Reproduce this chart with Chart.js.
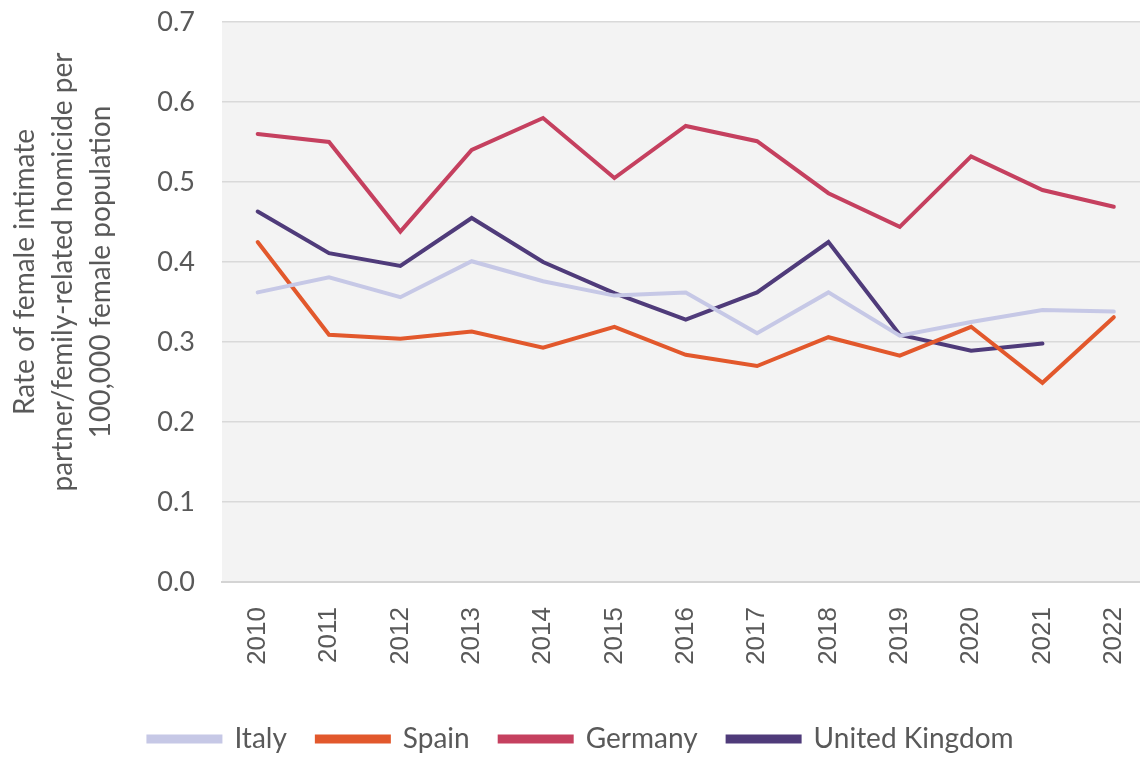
<!DOCTYPE html>
<html>
<head>
<meta charset="utf-8">
<script src="https://cdn.jsdelivr.net/npm/chart.js@4/dist/chart.umd.min.js"></script>
<style>
  html, body { margin: 0; padding: 0; background: #fff; overflow: hidden; }
  #wrap { width: 1162px; height: 757px; }
</style>
</head>
<body>
<div id="wrap"><canvas id="homicide-chart" width="1162" height="757"></canvas></div>
<script>
// YEARS AND RATES (per 100,000 female population)
const years = ["2010", "2011", "2012", "2013", "2014", "2015", "2016", "2017", "2018", "2019", "2020", "2021", "2022"];
const italy = [0.362, 0.381, 0.356, 0.401, 0.376, 0.358, 0.362, 0.311, 0.362, 0.308, 0.325, 0.340, 0.338];
const spain = [0.425, 0.309, 0.304, 0.313, 0.293, 0.319, 0.284, 0.270, 0.306, 0.283, 0.319, 0.249, 0.331];
const germany = [0.560, 0.550, 0.438, 0.540, 0.580, 0.505, 0.570, 0.551, 0.486, 0.444, 0.532, 0.490, 0.469];
const uk = [0.463, 0.411, 0.395, 0.455, 0.400, 0.361, 0.328, 0.362, 0.425, 0.309, 0.289, 0.298, null];
const yTicks = [0, 0.1, 0.2, 0.3, 0.4, 0.5, 0.6, 0.7];
const yTitle = ["Rate of female intimate", "partner/femily-related homicide per", "100,000 female population"];

const textGrey = "#595959";

// grey plot area behind the lines
const plotBackground = {
    id: "plotBackground",
    beforeDraw: function(chart) {
        const a = chart.chartArea;
        chart.ctx.save();
        chart.ctx.fillStyle = "#f3f3f3";
        chart.ctx.fillRect(a.left, a.top, a.right - a.left, a.bottom - a.top);
        chart.ctx.restore();
    }
};

// y axis title, sitting a bit above the middle of the plot like the original
const sideTitle = {
    id: "sideTitle",
    afterDraw: function(chart) {
        const ctx = chart.ctx;
        ctx.save();
        ctx.fillStyle = textGrey;
        ctx.font = "28px Lato";
        ctx.textAlign = "center";
        ctx.textBaseline = "middle";
        ctx.translate(25, 272);
        ctx.rotate(-Math.PI / 2);
        yTitle.forEach(function(line, i) {
            ctx.fillText(line, 0, i * 38);
        });
        ctx.restore();
    }
};

const dataRates = {
    labels: years,
    datasets: [
        { label: "Italy", data: italy, borderColor: "#c6c8e6", backgroundColor: "#c6c8e6" },
        { label: "Spain", data: spain, borderColor: "#e2582c", backgroundColor: "#e2582c" },
        { label: "Germany", data: germany, borderColor: "#c5405f", backgroundColor: "#c5405f" },
        { label: "United Kingdom", data: uk, borderColor: "#4f3b7a", backgroundColor: "#4f3b7a" }
    ]
};

new Chart("homicide-chart", {
    type: "line",
    data: dataRates,
    plugins: [plotBackground, sideTitle],
    options: {
        responsive: false,
        animation: false,
        layout: { padding: { top: 22, left: 0, right: 0, bottom: -6 } },
        elements: {
            line: { borderWidth: 4, tension: 0, borderCapStyle: "round", borderJoinStyle: "miter" },
            point: { radius: 0, hoverRadius: 0 }
        },
        plugins: {
            tooltip: { enabled: false },
            legend: {
                position: "bottom",
                labels: {
                    boxWidth: 72,
                    boxHeight: 5,
                    padding: 30,
                    color: textGrey,
                    font: { family: "Lato", size: 28 }
                }
            }
        },
        scales: {
            x: {
                offset: true,
                grid: { display: false },
                border: { display: true, color: "#d4d4d4", width: 2 },
                ticks: {
                    color: textGrey,
                    minRotation: 90,
                    maxRotation: 90,
                    padding: 17,
                    font: { family: "Liberation Sans", size: 26 }
                },
                afterFit: function(scale) { scale.height = 113; }
            },
            y: {
                min: 0,
                max: 0.7,
                afterBuildTicks: function(scale) {
                    scale.ticks = yTicks.map(function(v) { return { value: v }; });
                },
                // invisible tick marks give the gap between labels and plot
                grid: { color: "#d9d9d9", lineWidth: 1.5, drawTicks: true, tickLength: 27, tickColor: "rgba(0,0,0,0)" },
                border: { display: false },
                ticks: {
                    color: textGrey,
                    padding: 0,
                    font: { family: "Lato", size: 27 },
                    callback: function(v) { return v.toFixed(1); }
                },
                afterFit: function(scale) { scale.width = 222; }
            }
        }
    }
});
</script>
</body>
</html>
